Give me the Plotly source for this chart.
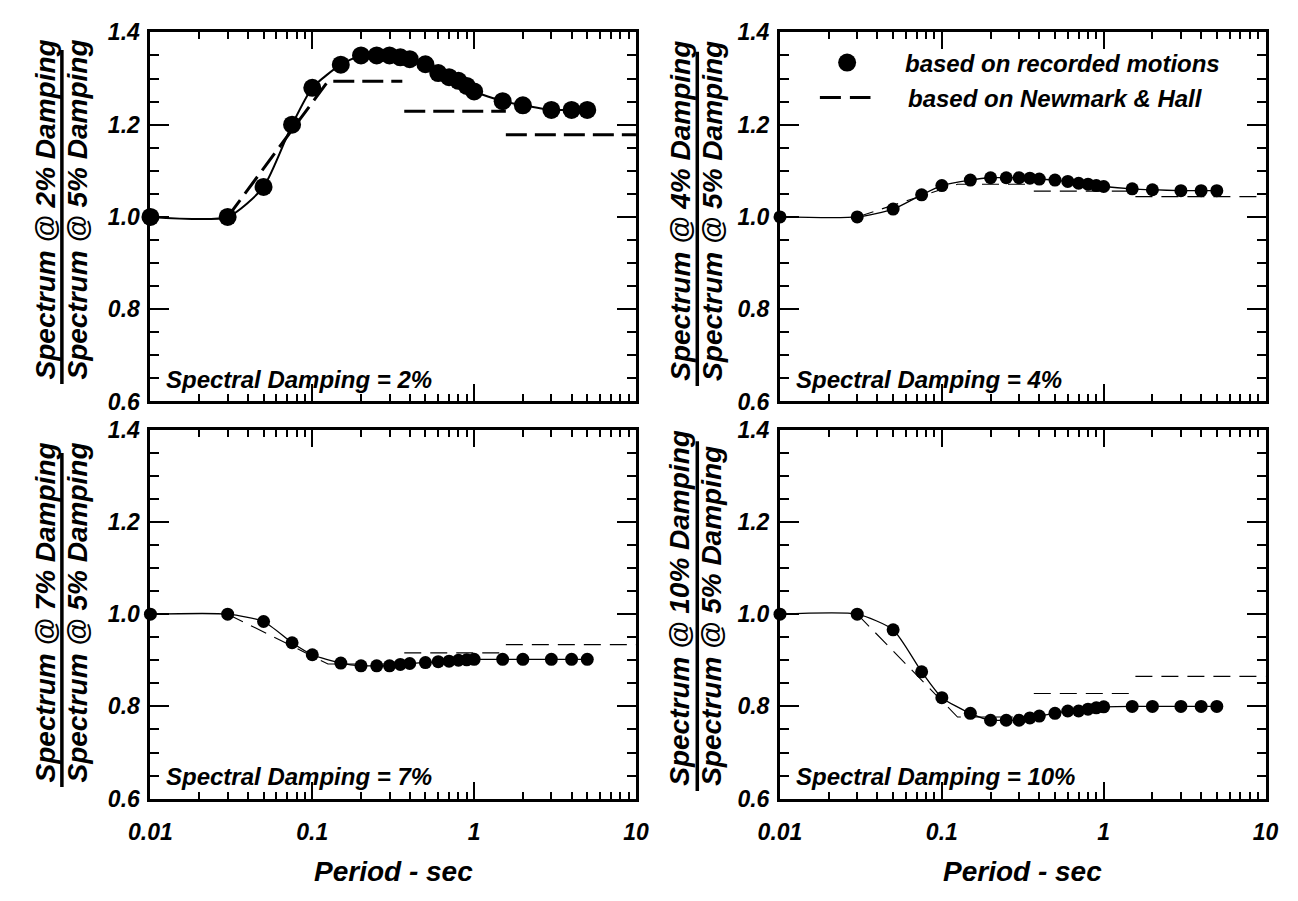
import plotly.graph_objects as go

# Periods (sec) at which the spectral ratios were computed
period = [0.01, 0.03, 0.05, 0.075, 0.1, 0.15, 0.2, 0.25, 0.3, 0.35, 0.4,
          0.5, 0.6, 0.7, 0.8, 0.9, 1.0, 1.5, 2.0, 3.0, 4.0, 5.0]

# Ratio of spectrum at the given damping to spectrum at 5% damping (recorded motions)
ratio_2 = [1.0, 1.0, 1.065, 1.20, 1.28, 1.33, 1.35, 1.35, 1.35, 1.346, 1.342,
           1.331, 1.312, 1.303, 1.295, 1.284, 1.272, 1.251, 1.242, 1.232, 1.232, 1.232]
ratio_4 = [1.0, 1.0, 1.017, 1.048, 1.068, 1.080, 1.085, 1.085, 1.085, 1.084, 1.082,
           1.080, 1.077, 1.073, 1.071, 1.068, 1.066, 1.061, 1.059, 1.057, 1.057, 1.057]
ratio_7 = [1.0, 1.0, 0.984, 0.938, 0.912, 0.894, 0.888, 0.888, 0.888, 0.891, 0.893,
           0.895, 0.897, 0.898, 0.900, 0.901, 0.902, 0.902, 0.902, 0.902, 0.902, 0.902]
ratio_10 = [1.0, 1.0, 0.966, 0.875, 0.819, 0.785, 0.770, 0.770, 0.770, 0.775, 0.779,
            0.785, 0.790, 0.790, 0.794, 0.797, 0.799, 0.800, 0.800, 0.800, 0.800, 0.800]

# Newmark & Hall ratios: ramp, then acceleration / velocity / displacement plateaus
nh_period = [0.03, 0.125, 0.36, None, 0.37, 1.57, None, 1.57, 10.0]
nh_2 = [1.0, 1.294, 1.294, None, 1.229, 1.229, None, 1.178, 1.178]
nh_4 = [1.0, 1.071, 1.071, None, 1.056, 1.056, None, 1.044, 1.044]
nh_7 = [1.0, 0.892, 0.892, None, 0.916, 0.916, None, 0.934, 0.934]
nh_10 = [1.0, 0.777, 0.777, None, 0.828, 0.828, None, 0.865, 0.865]

damping_labels = ["2%", "4%", "7%", "10%"]

x_tick_vals = [0.01, 0.1, 1, 10]
x_tick_text = ["0.01", "0.1", "1", "10"]
y_tick_vals = [0.6, 0.8, 1.0, 1.2, 1.4]
y_tick_text = ["0.6", "0.8", "1.0", "1.2", "1.4"]

W, H = 1298, 901
FONT = "Liberation Sans, Arial, sans-serif"


def fx(px):
    return px / W


def fy(py):
    return 1 - py / H


def bi(size):
    return dict(family=FONT, size=size, color="black", weight="bold", style="italic")


# panel pixel boxes: (left, right, top, bottom)
panels = [
    (132, 631, 20, 400),
    (779, 1278, 20, 400),
    (132, 631, 429, 809),
    (779, 1278, 429, 809),
]
# y-title placement per panel: numerator x, fraction bar x, denominator x, text start y
title_pos = [
    (24, 41, 57, 379),
    (676, 694, 709, 381),
    (24, 41, 57, 794),
    (676, 694, 709, 798),
]

series = [ratio_2, ratio_4, ratio_7, ratio_10]
nh_series = [nh_2, nh_4, nh_7, nh_10]

minor_x = [m * 10.0 ** e for e in (-2, -1, 0) for m in range(2, 10)]

fig = go.Figure()
layout = dict(
    width=W, height=H, margin=dict(l=0, r=0, t=0, b=0),
    paper_bgcolor="white", plot_bgcolor="white", showlegend=False,
)

annotations = []
shapes = []

for i, (l, r, t, b) in enumerate(panels):
    n = i + 1
    xa = "xaxis" if n == 1 else f"xaxis{n}"
    ya = "yaxis" if n == 1 else f"yaxis{n}"
    xr = "x" if n == 1 else f"x{n}"
    yr = "y" if n == 1 else f"y{n}"
    bottom_row = i >= 2

    layout[xa] = dict(
        domain=[fx(l), fx(r)], anchor=yr, type="log", range=[-2, 1],
        tickmode="array", tickvals=x_tick_vals, ticktext=x_tick_text,
        ticks="inside", ticklen=17, tickwidth=2, tickcolor="black",
        showline=True, linewidth=3, linecolor="black", mirror="ticks",
        showgrid=False, zeroline=False, showticklabels=bottom_row,
        tickfont=bi(23), ticklabelstandoff=11,
        minor=dict(tickmode="array", tickvals=minor_x, ticks="inside",
                   ticklen=7, tickwidth=2, tickcolor="black", showgrid=False),
    )
    layout[ya] = dict(
        domain=[fy(b), fy(t)], anchor=xr, range=[0.6, 1.4],
        tickmode="array", tickvals=y_tick_vals, ticktext=y_tick_text,
        ticks="inside", ticklen=19, tickwidth=2, tickcolor="black",
        showline=True, linewidth=3, linecolor="black", mirror="ticks",
        showgrid=False, zeroline=False, tickfont=bi(23), ticklabelstandoff=3,
        minor=dict(dtick=0.05, tick0=0.6, ticks="inside", ticklen=9,
                   tickwidth=2, tickcolor="black", showgrid=False),
    )

    big = i == 0
    fig.add_trace(go.Scatter(
        x=nh_period, y=nh_series[i], mode="lines", xaxis=xr, yaxis=yr,
        line=dict(color="black", width=3 if big else 1.1,
                  dash="21px,8px" if big else "17px,9px"),
        cliponaxis=False, hoverinfo="skip",
    ))
    fig.add_trace(go.Scatter(
        x=period, y=series[i], mode="lines+markers", xaxis=xr, yaxis=yr,
        line=dict(color="black", width=2 if big else 1.3, shape="spline", smoothing=0.6),
        marker=dict(color="black", size=18 if big else 13),
        cliponaxis=False,
    ))

    num_x, bar_x, den_x, start_y = title_pos[i]
    top_pct = damping_labels[i]
    annotations += [
        dict(text=f"Spectrum @ {top_pct} Damping", x=fx(num_x), y=fy(start_y),
             xref="paper", yref="paper", textangle=-90, showarrow=False,
             xanchor="center", yanchor="bottom", font=bi(28)),
        dict(text="Spectrum @ 5% Damping", x=fx(den_x), y=fy(start_y),
             xref="paper", yref="paper", textangle=-90, showarrow=False,
             xanchor="center", yanchor="bottom", font=bi(28)),
        dict(text=f"Spectral Damping = {top_pct}", x=fx(l + 14), y=fy(b - 23),
             xref="paper", yref="paper", showarrow=False,
             xanchor="left", yanchor="middle", font=bi(24)),
    ]
    bar_len = 344 if i != 3 else 360
    shapes.append(dict(type="line", xref="paper", yref="paper",
                       x0=fx(bar_x), x1=fx(bar_x),
                       y0=fy(start_y + 3), y1=fy(start_y + 3 - bar_len),
                       line=dict(color="black", width=3.5)))

    if bottom_row:
        annotations.append(dict(text="Period - sec", x=fx((l + r) / 2), y=fy(884),
                                xref="paper", yref="paper", showarrow=False,
                                xanchor="center", yanchor="middle", font=bi(28)))

# legend in the upper-right panel
shapes.append(dict(type="circle", xref="paper", yref="paper",
                   xsizemode="pixel", ysizemode="pixel",
                   xanchor=fx(848), yanchor=fy(51), x0=-9, x1=9, y0=-9, y1=9,
                   fillcolor="black", line=dict(color="black", width=0)))
shapes.append(dict(type="line", xref="paper", yref="paper",
                   x0=fx(820), x1=fx(872), y0=fy(87), y1=fy(87),
                   line=dict(color="black", width=3, dash="21px,9px")))
annotations += [
    dict(text="based on recorded motions", x=fx(905), y=fy(52), xref="paper",
         yref="paper", showarrow=False, xanchor="left", yanchor="middle", font=bi(24)),
    dict(text="based on Newmark & Hall", x=fx(909), y=fy(88), xref="paper",
         yref="paper", showarrow=False, xanchor="left", yanchor="middle", font=bi(24)),
]

layout["annotations"] = annotations
layout["shapes"] = shapes
fig.update_layout(**layout)

fig.write_html("out.html")
